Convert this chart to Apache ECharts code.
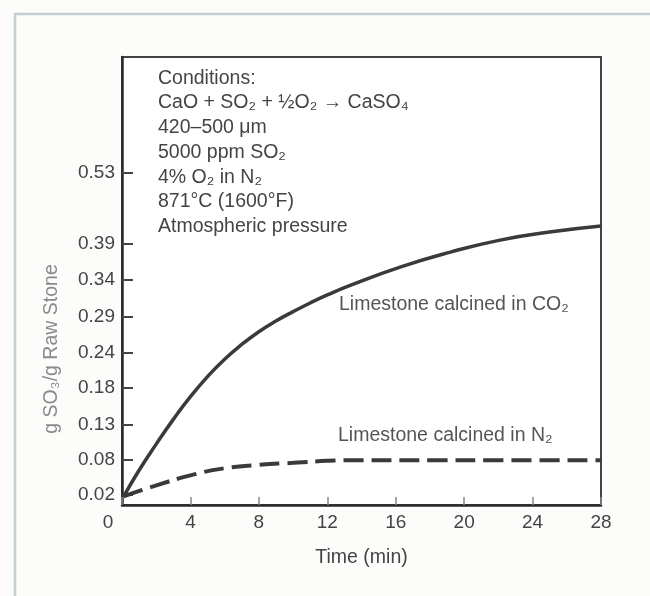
<!DOCTYPE html>
<html>
<head>
<meta charset="utf-8">
<style>
  html, body { margin: 0; padding: 0; background: #fcfcfa; }
  #main { width: 650px; height: 596px; }
</style>
<script src="https://cdn.jsdelivr.net/npm/echarts@6/dist/echarts.min.js"></script>
</head>
<body>
<div id="main"></div>
<script>
// time axis (min)
var xTicks = [0, 4, 8, 12, 16, 20, 24, 28];

// y ticks: where they sit on the axis, and the printed labels
var yTickPos = [0.015, 0.067, 0.120, 0.175, 0.227, 0.281, 0.336, 0.390, 0.496];
var yTickLabels = ['0.02', '0.08', '0.13', '0.18', '0.24', '0.29', '0.34', '0.39', '0.53'];

// limestone calcined in CO2 (solid)
var co2Time = [0.1, 1, 2, 3, 4, 5, 6, 7, 8, 9, 10, 11, 12, 13.3, 16.3, 19.2, 22.1, 25.0, 28];
var co2Value = [0.013, 0.052, 0.091, 0.128, 0.162, 0.192, 0.218, 0.240, 0.259, 0.275, 0.289, 0.302,
    0.314, 0.328, 0.356, 0.378, 0.396, 0.408, 0.417];

// limestone calcined in N2 (dashed)
var n2Time = [0.1, 2.1, 4.1, 6.0, 8.0, 10.0, 12.0, 14.0, 18.0, 22.0, 28];
var n2Value = [0.013, 0.030, 0.045, 0.055, 0.060, 0.063, 0.066, 0.067, 0.067, 0.067, 0.067];

var conditionLines = [
    'Conditions:',
    'CaO + SO\u2082 + \u00BDO\u2082 \u2192 CaSO\u2084',
    '420\u2013500 \u03BCm',
    '5000 ppm SO\u2082',
    '4% O\u2082 in N\u2082',
    '871\u00B0C (1600\u00B0F)',
    'Atmospheric pressure'
];

var font = '"Liberation Sans", Arial, sans-serif';
var textColor = '#444';

function pairs(xs, ys) {
    return xs.map(function (x, i) { return [x, ys[i]]; });
}

var chartDom = document.getElementById('main');
var myChart = echarts.init(chartDom);
var option;

option = {
    backgroundColor: '#fcfcfa',
    animation: false,
    grid: {
        left: 122,
        right: 49,
        top: 57,
        bottom: 91,
        show: true,
        backgroundColor: '#ffffff',
        borderColor: '#444',
        borderWidth: 2
    },
    xAxis: {
        type: 'value',
        min: xTicks[0],
        max: xTicks[xTicks.length - 1],
        interval: 4,
        axisLine: { lineStyle: { color: '#2a2a2a', width: 2.5 } },
        axisTick: { inside: true, length: 8, lineStyle: { color: '#888', width: 1.5 } },
        splitLine: { show: false },
        axisLabel: {
            margin: 8,
            fontSize: 19,
            fontFamily: font,
            color: textColor,
            formatter: function (v) {
                return v === 0 ? '{z|0}' : String(v);
            },
            rich: {
                z: { fontSize: 19, fontFamily: font, color: textColor, padding: [0, 28, 0, 0] }
            }
        },
        name: 'Time (min)',
        nameLocation: 'middle',
        nameGap: 43,
        nameTextStyle: { fontSize: 19.5, fontFamily: font, color: textColor }
    },
    yAxis: {
        type: 'value',
        min: 0,
        max: 0.6697,
        axisLine: { show: true, lineStyle: { color: '#2a2a2a', width: 2.5 } },
        axisTick: {
            inside: true,
            length: 11,
            customValues: yTickPos,
            lineStyle: { color: '#444', width: 2 }
        },
        splitLine: { show: false },
        axisLabel: {
            margin: 7,
            fontSize: 19,
            fontFamily: font,
            color: textColor,
            customValues: yTickPos,
            formatter: function (v) {
                var best = 0;
                for (var i = 1; i < yTickPos.length; i++) {
                    if (Math.abs(yTickPos[i] - v) < Math.abs(yTickPos[best] - v)) best = i;
                }
                return yTickLabels[best];
            }
        }
    },
    series: [
        {
            name: 'Limestone calcined in CO\u2082',
            type: 'line',
            data: pairs(co2Time, co2Value),
            smooth: true,
            symbol: 'none',
            lineStyle: { color: '#3a3a3a', width: 3.5 }
        },
        {
            name: 'Limestone calcined in N\u2082',
            type: 'line',
            data: pairs(n2Time, n2Value),
            smooth: true,
            symbol: 'none',
            lineStyle: { color: '#3a3a3a', width: 4, type: [20, 8] }
        }
    ],
    graphic: [
        // faint outer frame of the figure
        {
            type: 'polyline',
            silent: true,
            shape: { points: [[15, 596], [15, 14], [650, 14]] },
            style: { stroke: '#c3cfd3', lineWidth: 2.5, fill: null }
        },
        {
            type: 'text',
            left: 158,
            top: 66,
            style: {
                text: conditionLines.join('\n'),
                font: '19.5px ' + font,
                fill: textColor,
                lineHeight: 24.7
            }
        },
        {
            type: 'text',
            left: 339,
            top: 295,
            style: { text: 'Limestone calcined in CO\u2082', font: '19.5px ' + font, fill: '#555' }
        },
        {
            type: 'text',
            left: 338,
            top: 426,
            style: { text: 'Limestone calcined in N\u2082', font: '19.5px ' + font, fill: '#555' }
        },
        {
            type: 'text',
            x: 52,
            y: 349,
            rotation: Math.PI / 2,
            style: {
                text: 'g SO\u2083/g Raw Stone',
                font: '19.5px ' + font,
                fill: '#8a8a8a',
                textAlign: 'center',
                textVerticalAlign: 'middle'
            }
        }
    ]
};

option && myChart.setOption(option);
</script>
</body>
</html>
